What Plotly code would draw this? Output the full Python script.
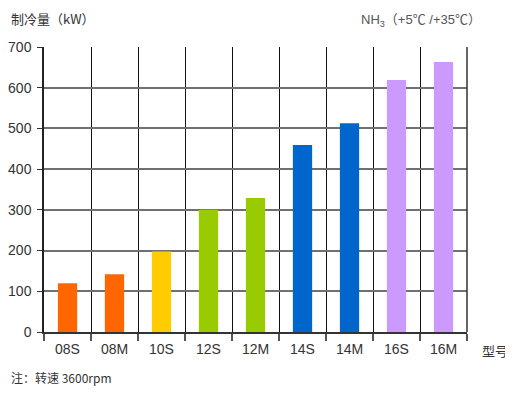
import plotly.graph_objects as go

categories = ["08S", "08M", "10S", "12S", "12M", "14S", "14M", "16S", "16M"]
values = [120, 142, 198, 300, 329, 459, 513, 619, 663]
colors = ["#FF6600", "#FF6600", "#FFCC00", "#99CC00", "#99CC00",
          "#0066CC", "#0066CC", "#CC99FF", "#CC99FF"]
y_ticks = [0, 100, 200, 300, 400, 500, 600, 700]

latin = "Liberation Sans"
cjk = "Noto Sans CJK SC"

fig = go.Figure()
fig.add_trace(go.Bar(x=categories, y=values, marker=dict(color=colors, line=dict(width=0)),
                     width=0.41))

# page body has an 8px default margin, so the figure is 8px smaller than the window
fig.update_layout(
    width=505, height=390,
    margin=dict(l=36, r=46, t=39, b=66, autoexpand=False),
    paper_bgcolor="white", plot_bgcolor="white",
    showlegend=False,
    font=dict(family=latin, size=14, color="#333333"),
    xaxis=dict(
        type="category", tickson="boundaries",
        showgrid=True, gridcolor="#111111", gridwidth=1,
        showline=True, linecolor="#333333", linewidth=2,
        ticks="outside", ticklen=7, tickcolor="#555555", tickwidth=1.5,
        tickfont=dict(family=latin, size=14, color="#333333"),
        range=[-0.5, 8.5], automargin=False, ticklabelstandoff=3,
    ),
    yaxis=dict(
        range=[0, 700], tickvals=y_ticks,
        showgrid=True, gridcolor="#707070", gridwidth=1.5,
        showline=True, linecolor="#222222", linewidth=1.5,
        ticks="outside", ticklen=5, tickcolor="#333333",
        tickfont=dict(family=latin, size=14, color="#333333"),
        zeroline=False, automargin=False, ticklabelstandoff=3,
    ),
)

# right border of the plot
fig.add_shape(type="line", xref="paper", yref="paper", x0=1, x1=1, y0=0, y1=1,
              line=dict(color="#333333", width=1.5))

W, H = 423, 285
fig.add_annotation(text="制冷量（kW）", xref="paper", yref="paper",
                   x=-35 / W, y=1 + 28 / H, xanchor="left", yanchor="middle",
                   showarrow=False, font=dict(size=13, color="#333333", family=cjk))
fig.add_annotation(text="NH<sub>3</sub>（+5℃ /+35℃）", xref="paper", yref="paper",
                   x=315 / W, y=1 + 26 / H, xanchor="left", yanchor="middle",
                   showarrow=False, font=dict(size=13, color="#555555", family=latin + ", " + cjk))
fig.add_annotation(text="型号", xref="paper", yref="paper",
                   x=436 / W, y=-18 / H, xanchor="left", yanchor="middle",
                   showarrow=False, font=dict(size=13, color="#333333", family=cjk))
fig.add_annotation(text="注：转速 3600rpm", xref="paper", yref="paper",
                   x=-35 / W, y=-45 / H, xanchor="left", yanchor="middle",
                   showarrow=False, font=dict(size=12, color="#333333", family=cjk))

fig.write_html("out.html")
